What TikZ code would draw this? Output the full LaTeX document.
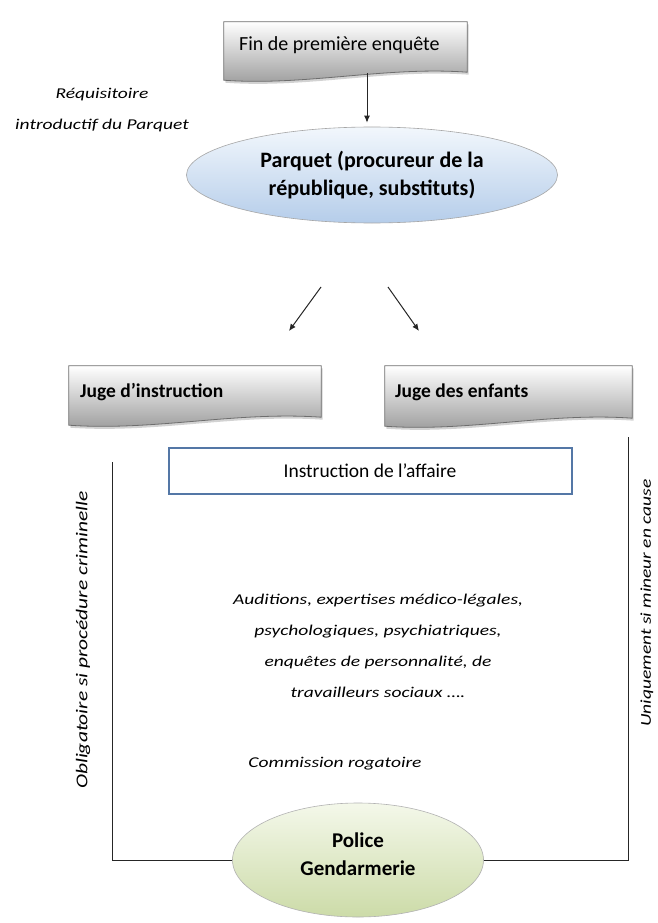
\documentclass[tikz,border=0pt]{standalone}
\usepackage{fontspec}
\setmainfont{Carlito}
\newfontfamily\wideit[FakeStretch=1.3]{Carlito}
\usetikzlibrary{calc,arrows.meta,shadows,shapes.geometric}
\definecolor{boxborder}{HTML}{6E6E6E}
\definecolor{boxbottom}{HTML}{9A9A9A}
\definecolor{bluebottom}{HTML}{B5CDEA}
\definecolor{bluetop}{HTML}{F2F7FC}
\definecolor{greenbottom}{HTML}{CCDBA8}
\definecolor{greentop}{HTML}{F4F8EA}
\definecolor{instrborder}{HTML}{5477A6}
\tikzset{
  holder/.style={inner sep=0pt, minimum width=#1},
  docbox/.style={draw=boxborder, line width=0.8pt, top color=white, bottom color=boxbottom,
     drop shadow={shadow xshift=1.5pt, shadow yshift=-2.5pt, opacity=0.35}},
  boxtext/.style={anchor=west, inner sep=0pt, font=\fontsize{20}{22}\selectfont},
  boldtext/.style={anchor=west, inner sep=0pt, font=\fontsize{19.5}{21}\selectfont\bfseries},
  ital/.style={font=\wideit\fontsize{15}{31}\selectfont\itshape, align=center, inner sep=0pt},
  ellblue/.style={ellipse, draw=gray!70, line width=0.6pt, top color=bluetop, bottom color=bluebottom,
     minimum width=371pt, minimum height=96pt, inner sep=0pt, align=center,
     font=\fontsize{22}{28}\selectfont\bfseries},
  ellgreen/.style={ellipse, draw=gray!60, line width=0.6pt, top color=greentop, bottom color=greenbottom,
     minimum width=251pt, minimum height=114pt, inner sep=0pt},
  ellgreentext/.style={align=center, inner sep=0pt, font=\fontsize{21}{28}\selectfont\bfseries},
  arr/.style={-{Latex[length=7pt,width=6pt]}, line width=1pt, black!85},
  conn/.style={line width=1pt, black!85},
}
\newcommand{\wavedoc}[1]{%
  \path[docbox] (#1.north west) -- (#1.north east) -- (#1.south east)
    .. controls ($(#1.south)+(40,-6)$) and ($(#1.south)+(-40,14)$) .. ($(#1.south west)+(0,8)$) -- cycle;}
\begin{document}
\begin{tikzpicture}[x=1pt,y=-1pt]
\useasboundingbox[fill=white] (0,0) rectangle (658,923);

% top box
\node[holder=243pt, minimum height=50pt] (fin) at (345.5,47) {};
\wavedoc{fin}
\node[boxtext] (fint) at (239,45) {Fin de première enquête};

% label
\node[ital] (req) at (102,110) {Réquisitoire\\introductif du Parquet};

% Parquet ellipse
\node[ellblue] (parquet) at (372,175) {Parquet (procureur de la\\république, substituts)};
\draw[arr] ($(fin.south)+(21.5,1)$) -- ($(parquet.north)+(-5,-4)$);

% two arrows
\coordinate (l1) at (321,287);
\coordinate (l2) at (289,331);
\coordinate (r1) at (388,287);
\coordinate (r2) at (419,331);
\draw[arr] (l1) -- (l2);
\draw[arr] (r1) -- (r2);

% juge boxes
\node[holder=252pt, minimum height=51pt] (ji) at (195,391.5) {};
\wavedoc{ji}
\node[boldtext] (jit) at (80,392) {Juge d’instruction};
\node[holder=247pt, minimum height=52pt] (je) at (508.5,392) {};
\wavedoc{je}
\node[boldtext] (jet) at (395,392) {Juge des enfants};

% instruction box
\node[draw=instrborder, line width=2pt, fill=white, minimum width=403pt, minimum height=46pt,
      inner sep=0pt, font=\fontsize{19.5}{21}\selectfont] (instr) at (370,471) {Instruction de l’affaire};

% middle text
\node[ital] (aud) at (378,646) {Auditions, expertises médico-légales,\\psychologiques, psychiatriques,\\enquêtes de personnalité, de\\travailleurs sociaux ….};
\node[ital] (comm) at (335,764) {Commission rogatoire};

% police ellipse
\node[ellgreen] (police) at (358,860) {};
\node[ellgreentext] (poltext) at (358,854) {Police\\Gendarmerie};

% side lines
\coordinate (ltop) at (112,462);
\coordinate (rtop) at (628,437);
\draw[conn] (ltop) |- (police.west);
\draw[conn] (rtop) |- (police.east);

% rotated labels
\node[ital, rotate=90, font=\wideit\fontsize{16.5}{20}\selectfont\itshape] (obl) at (83,640) {Obligatoire si procédure criminelle};
\node[ital, rotate=90] (uniq) at (647,603) {Uniquement si mineur en cause};
\end{tikzpicture}
\end{document}
